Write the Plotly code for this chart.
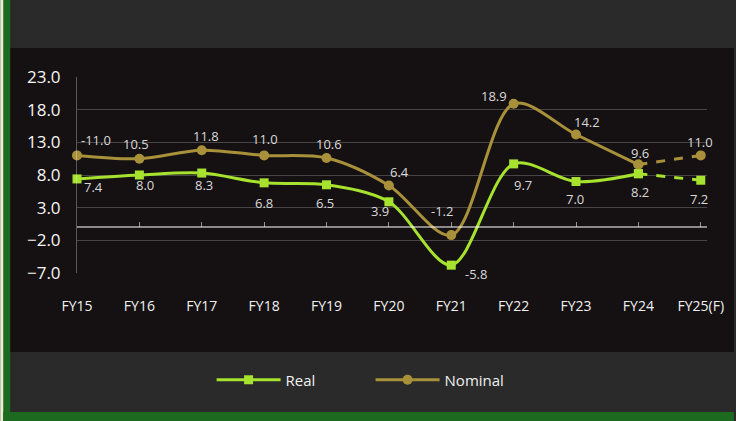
import plotly.graph_objects as go

categories = ["FY15", "FY16", "FY17", "FY18", "FY19", "FY20", "FY21", "FY22", "FY23", "FY24", "FY25(F)"]
real = [7.4, 8.0, 8.3, 6.8, 6.5, 3.9, -5.8, 9.7, 7.0, 8.2, 7.2]
nominal = [11.0, 10.5, 11.8, 11.0, 10.6, 6.4, -1.2, 18.9, 14.2, 9.6, 11.0]
nominal_labels = ["-11.0", "10.5", "11.8", "11.0", "10.6", "6.4", "-1.2", "18.9", "14.2", "9.6", "11.0"]
real_labels = ["7.4", "8.0", "8.3", "6.8", "6.5", "3.9", "-5.8", "9.7", "7.0", "8.2", "7.2"]
y_ticks = [-7, -2, 3, 8, 13, 18, 23]

REAL_C = "#a6e22e"
NOM_C = "#a8913a"
W, H = 736, 421
L, R, T, B = 77, 709, 77, 273

def px(x):
    return (x - L) / (R - L)

def py(y):
    return (B - y) / (B - T)

# label pixel offsets (dx, dy-down) relative to each point
nom_off = [(19, -15), (-3, -15), (4, -14), (1, -16), (2, -14), (11, -13), (-9, -24), (-20, -8), (11, -12), (2, -12), (-1, -13)]
real_off = [(16, 8), (6, 10), (2, 12), (0, 20), (-2, 18), (-9, 9), (25, 9), (9, 21), (-1, 17), (2, 18), (-2, 19)]

x_idx = list(range(len(categories)))
fig = go.Figure()

fig.add_trace(go.Scatter(x=x_idx[:10], y=real[:10], mode="lines+markers", name="Real",
                         line=dict(color=REAL_C, width=3, shape="spline", smoothing=0.9),
                         marker=dict(symbol="square", size=9, color=REAL_C), cliponaxis=False))
fig.add_trace(go.Scatter(x=x_idx[:10], y=nominal[:10], mode="lines+markers", name="Nominal",
                         line=dict(color=NOM_C, width=3, shape="spline", smoothing=0.9),
                         marker=dict(symbol="circle", size=10, color=NOM_C), cliponaxis=False))
fig.add_trace(go.Scatter(x=x_idx[9:], y=nominal[9:], mode="lines+markers", showlegend=False,
                         line=dict(color=NOM_C, width=3, dash="dash"),
                         marker=dict(symbol="circle", size=10, color=NOM_C), cliponaxis=False))
fig.add_trace(go.Scatter(x=x_idx[9:], y=real[9:], mode="lines+markers", showlegend=False,
                         line=dict(color=REAL_C, width=3, dash="dash"),
                         marker=dict(symbol="square", size=9, color=REAL_C), cliponaxis=False))
fig.add_trace(go.Scatter(x=x_idx, y=[0] * 11, xaxis="x2", mode="none", showlegend=False, hoverinfo="skip"))

tf = dict(family="Open Sans, sans-serif", size=13, color="#d9d9d9")
annotations = []
for i in x_idx:
    dx, dy = nom_off[i]
    annotations.append(dict(x=i, y=nominal[i], xref="x", yref="y", text=nominal_labels[i], showarrow=False,
                            xshift=dx, yshift=-dy, font=tf, xanchor="center", yanchor="middle"))
    dx, dy = real_off[i]
    annotations.append(dict(x=i, y=real[i], xref="x", yref="y", text=real_labels[i], showarrow=False,
                            xshift=dx, yshift=-dy, font=tf, xanchor="center", yanchor="middle"))

shapes = [
    dict(type="rect", xref="paper", yref="paper", x0=px(0), x1=px(W), y0=py(352), y1=py(48),
         fillcolor="#151112", line=dict(width=0), layer="below"),
    dict(type="rect", xref="paper", yref="paper", x0=px(0), x1=px(10), y0=py(H), y1=py(0),
         fillcolor="#1c6a1f", line=dict(width=0), layer="below"),
    dict(type="rect", xref="paper", yref="paper", x0=px(0), x1=px(3), y0=py(H), y1=py(0),
         fillcolor="#efe9d6", line=dict(width=0), layer="below"),
    dict(type="rect", xref="paper", yref="paper", x0=px(3), x1=px(W), y0=py(H), y1=py(412),
         fillcolor="#1c6a1f", line=dict(width=0), layer="below"),
]

zero_pos = 7 / 30  # fraction of the y range where value 0 lies

fig.update_layout(
    width=W, height=H,
    margin=dict(l=L, r=W - R, t=T, b=H - B),
    paper_bgcolor="#2a2a2a",
    plot_bgcolor="rgba(0,0,0,0)",
    shapes=shapes,
    annotations=annotations,
    font=dict(family="Open Sans, sans-serif", color="#ffffff"),
    xaxis=dict(range=[0, 10.1], tickvals=x_idx, ticktext=categories, showgrid=False, zeroline=False,
               showline=False, ticks="", tickfont=dict(size=14, color="#f0f0f0"), ticklabelstandoff=23),
    xaxis2=dict(range=[0, 10.1], overlaying="x", anchor="free", position=zero_pos,
                tickvals=x_idx[1:], showticklabels=False, ticks="inside", ticklen=5,
                tickcolor="rgba(255,255,255,0.55)", showline=True, linecolor="rgba(255,255,255,0.5)",
                linewidth=1.5, showgrid=False, zeroline=False),
    yaxis=dict(range=[-7, 23], tickvals=y_ticks, tickformat=".1f", showgrid=True,
               gridcolor="rgba(255,255,255,0.22)", gridwidth=1, zeroline=False,
               showline=True, linecolor="rgba(255,255,255,0.3)", linewidth=1,
               tickfont=dict(size=17, color="#f5f5f5"), ticklabelstandoff=12),
    legend=dict(orientation="h", x=px(212), xanchor="left", y=py(380), yanchor="middle",
                font=dict(size=15, color="#f0f0f0"), bgcolor="rgba(0,0,0,0)", itemwidth=64,
                traceorder="normal", entrywidth=80),
    showlegend=True,
)

fig.write_html("out.html")
